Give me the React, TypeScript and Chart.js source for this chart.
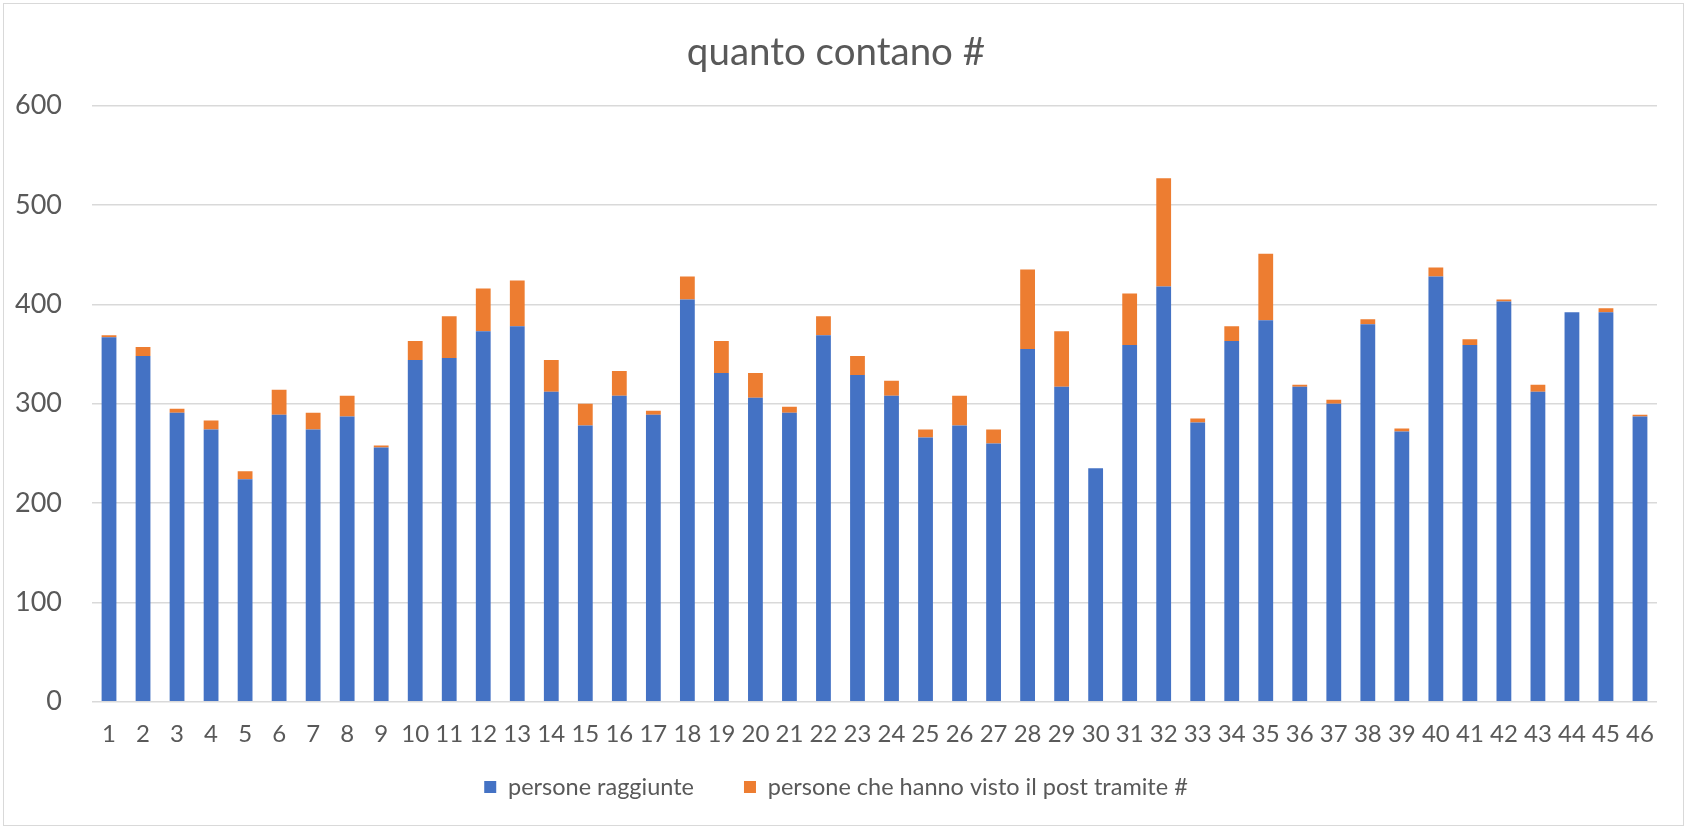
import React, { useEffect, useRef } from "react";
import { Chart, registerables } from "chart.js";

Chart.register(...registerables);

const categories = [
  "1", "2", "3", "4", "5", "6", "7", "8", "9", "10",
  "11", "12", "13", "14", "15", "16", "17", "18", "19", "20",
  "21", "22", "23", "24", "25", "26", "27", "28", "29", "30",
  "31", "32", "33", "34", "35", "36", "37", "38", "39", "40",
  "41", "42", "43", "44", "45", "46",
];

const personeRaggiunte = [
  367, 348, 291, 274, 224, 289, 274, 287, 256, 344,
  346, 373, 378, 312, 278, 308, 289, 405, 331, 306,
  291, 369, 329, 308, 266, 278, 260, 355, 317, 235,
  359, 418, 281, 363, 384, 317, 300, 380, 272, 428,
  359, 403, 312, 392, 392, 287,
];

const personeTramiteHashtag = [
  2, 9, 4, 9, 8, 25, 17, 21, 2, 19,
  42, 43, 46, 32, 22, 25, 4, 23, 32, 25,
  6, 19, 19, 15, 8, 30, 14, 80, 56, 0,
  52, 109, 4, 15, 67, 2, 4, 5, 3, 9,
  6, 2, 7, 0, 4, 2,
];

const titleText = "quanto contano #";
const seriesNames = ["persone raggiunte", "persone che hanno visto il post tramite #"];

const W = 1685;
const H = 826;
const FONT = "Lato, 'Open Sans', sans-serif";
const TEXT = "#595959";

export default function App() {
  const ref = useRef<HTMLCanvasElement | null>(null);

  useEffect(() => {
    if (!ref.current) return;
    const chart = new Chart(ref.current, {
      type: "bar",
      data: {
        labels: categories,
        datasets: [
          {
            label: seriesNames[0],
            data: personeRaggiunte,
            backgroundColor: "#4472C4",
            borderWidth: 0,
            categoryPercentage: 1,
            barPercentage: 0.435,
          },
          {
            label: seriesNames[1],
            data: personeTramiteHashtag,
            backgroundColor: "#ED7D31",
            borderWidth: 0,
            categoryPercentage: 1,
            barPercentage: 0.435,
          },
        ],
      },
      options: {
        responsive: false,
        animation: false,
        devicePixelRatio: 1,
        layout: { padding: { left: 15, right: 28, top: 0, bottom: 17.25 } },
        plugins: {
          tooltip: { enabled: false },
          title: {
            display: true,
            text: titleText,
            color: TEXT,
            font: { family: FONT, size: 38.5, weight: "normal" },
            padding: { top: 29, bottom: 30.5 },
          },
          legend: {
            display: true,
            position: "bottom",
            labels: {
              color: TEXT,
              font: { family: FONT, size: 23.5 },
              boxWidth: 12,
              boxHeight: 12,
              padding: 50,
            },
          },
        },
        scales: {
          x: {
            stacked: true,
            grid: { display: false },
            border: { display: false },
            ticks: {
              color: TEXT,
              font: { family: FONT, size: 24 },
              mirror: true,
              padding: -47,
              maxRotation: 0,
              autoSkip: false,
            },
            afterFit: (scale: any) => {
              scale.height = 23.55;
            },
          },
          y: {
            stacked: true,
            min: 0,
            max: 600,
            ticks: {
              stepSize: 100,
              color: TEXT,
              font: { family: FONT, size: 27 },
              padding: 30,
            },
            grid: {
              color: "#D9D9D9",
              lineWidth: 1.5,
              drawTicks: false,
            },
            border: { display: false },
            afterFit: (scale: any) => {
              scale.width = 77;
            },
          },
        },
      },
    });
    return () => chart.destroy();
  }, []);

  return (
    <div
      style={{
        position: "fixed",
        left: 0,
        top: 0,
        width: W,
        height: H,
        background: "#ffffff",
      }}
    >
      <canvas ref={ref} width={W} height={H} style={{ width: W, height: H, display: "block" }} />
      <div
        style={{
          position: "absolute",
          left: 3,
          top: 3,
          width: 1681,
          height: 823,
          border: "1.5px solid #D9D9D9",
          boxSizing: "border-box",
          pointerEvents: "none",
        }}
      />
    </div>
  );
}
